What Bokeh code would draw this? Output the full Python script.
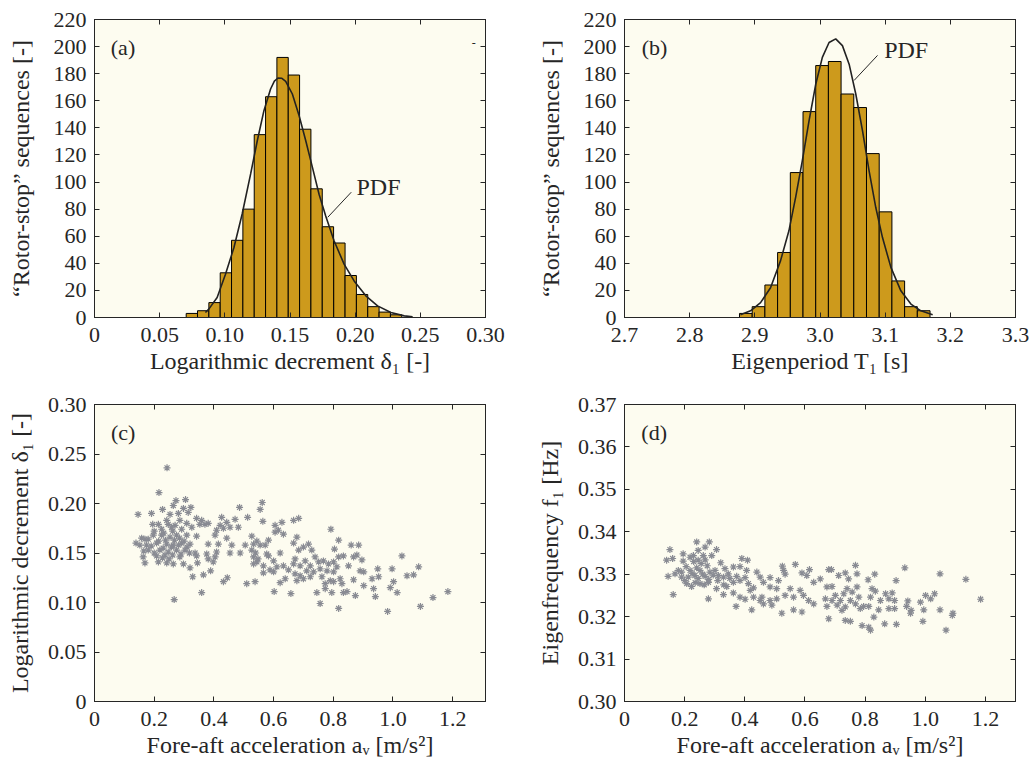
from bokeh.plotting import figure
from bokeh.layouts import column, row
from bokeh.models import Range1d, LinearAxis, FixedTicker, CustomJSTickFormatter
from bokeh.core.properties import value
from bokeh.embed import file_html
from bokeh.resources import INLINE

# ---------------- data ----------------
# (a) histogram of logarithmic decrement
delta_bin_centers = [0.0747, 0.0834, 0.0921, 0.1008, 0.1095, 0.1182, 0.1269, 0.1356,
                     0.1443, 0.1530, 0.1617, 0.1704, 0.1791, 0.1879, 0.1966, 0.2053,
                     0.2140, 0.2227, 0.2314]
delta_bin_width = 0.0087
delta_counts = [3, 5, 11, 33, 57, 80, 135, 163, 192, 179, 139, 95, 67, 55, 31, 17, 8, 4, 2]
delta_pdf_x = [0.0851, 0.0877, 0.0941, 0.1005, 0.1070, 0.1133, 0.1198, 0.1249, 0.1300,
               0.1351, 0.1380, 0.1408, 0.1438, 0.1467, 0.1518, 0.1570, 0.1621, 0.1672,
               0.1723, 0.1774, 0.1838, 0.1915, 0.1992, 0.2082, 0.2172, 0.2274, 0.2377, 0.2441]
delta_pdf_y = [3.7, 6.2, 14.8, 32.0, 51.7, 76.4, 106.0, 130.5, 152.7,
               168.7, 174.5, 176.8, 176.6, 174.4, 165.0, 149.0, 130.5, 110.8,
               91.0, 75.0, 56.7, 39.4, 27.0, 16.0, 8.6, 3.7, 1.2, 0.5]

# (b) histogram of eigenperiod
period_bin_centers = [2.8862, 2.9057, 2.9252, 2.9447, 2.9642, 2.9837, 3.0032, 3.0226,
                      3.0421, 3.0616, 3.0811, 3.1006, 3.1201, 3.1396, 3.1591]
period_bin_width = 0.0195
period_counts = [3, 8, 24, 48, 107, 152, 186, 189, 165, 155, 121, 78, 27, 8, 5]
period_pdf_x = [2.8780, 2.8934, 2.9088, 2.9241, 2.9395, 2.9523, 2.9626, 2.9729, 2.9831,
                2.9934, 3.0036, 3.0139, 3.0241, 3.0344, 3.0447, 3.0549, 3.0652, 3.0754,
                3.0857, 3.0959, 3.1088, 3.1241, 3.1395, 3.1549, 3.1729]
period_pdf_y = [2.0, 4.9, 11.0, 22.0, 42.0, 64.0, 88.7, 115.8, 145.0,
                172.0, 192.0, 203.0, 205.7, 200.7, 187.0, 165.0, 138.0, 108.0,
                81.0, 59.0, 37.0, 19.7, 9.9, 4.9, 2.0]

# (c) logarithmic decrement vs fore-aft acceleration
c_accel = [0.243, 0.216, 0.273, 0.305, 0.562, 0.486, 0.555, 0.228, 0.323, 0.298, 0.264,
           0.146, 0.191, 0.253, 0.281, 0.314, 0.513, 0.426, 0.342, 0.359, 0.242, 0.286,
           0.564, 0.628, 0.667, 0.684, 0.471, 0.443, 0.195, 0.214, 0.247, 0.270, 0.309,
           0.353, 0.370, 0.381, 0.421, 0.454, 0.482, 0.605, 0.225, 0.258, 0.292, 0.326,
           0.409, 0.432, 0.605, 0.633, 0.616, 0.139, 0.158, 0.169, 0.180, 0.197, 0.225,
           0.253, 0.275, 0.309, 0.342, 0.404, 0.443, 0.527, 0.678, 0.544, 0.583, 0.152,
           0.174, 0.208, 0.242, 0.264, 0.292, 0.320, 0.381, 0.415, 0.460, 0.505, 0.555,
           0.572, 0.667, 0.533, 0.180, 0.219, 0.247, 0.275, 0.303, 0.337, 0.376, 0.409,
           0.454, 0.488, 0.527, 0.577, 0.622, 0.684, 0.163, 0.208, 0.236, 0.286, 0.342,
           0.381, 0.404, 0.533, 0.544, 0.600, 0.672, 0.583, 0.169, 0.214, 0.242, 0.264,
           0.298, 0.345, 0.398, 0.533, 0.566, 0.611, 0.633, 0.667, 0.689, 0.320, 0.588,
           0.389, 0.365, 0.329, 0.566, 0.600, 0.650, 0.672, 0.689, 0.432, 0.445, 0.510,
           0.538, 0.622, 0.639, 0.678, 0.359, 0.602, 0.658, 0.267,
           0.200, 0.232, 0.262, 0.285, 0.300, 0.215, 0.238, 0.268, 0.190, 0.230, 0.258,
           0.282, 0.310, 0.165, 0.200, 0.262, 0.290, 0.318, 0.228, 0.250, 0.540, 0.548,
           0.792, 0.700, 0.717, 0.728, 0.818, 0.804, 0.860, 0.885, 0.834, 0.818, 0.879,
           0.896, 0.868, 1.030, 0.706, 0.723, 0.739, 0.751, 0.767, 0.784, 0.801, 0.812,
           0.711, 0.734, 0.756, 0.779, 0.801, 0.700, 0.723, 0.762, 0.790, 0.823, 0.829,
           0.801, 0.773, 0.851, 0.902, 0.890, 0.949, 0.997, 1.086, 1.047, 1.069, 0.952,
           0.930, 0.868, 0.902, 1.002, 0.991, 0.935, 1.014, 0.941, 0.874, 0.846, 0.834,
           0.795, 0.773, 0.745, 0.756, 0.818, 0.982, 1.092, 1.134, 1.184]
c_delta = [0.236, 0.211, 0.203, 0.204, 0.201, 0.196, 0.194, 0.194, 0.196, 0.195, 0.198,
           0.189, 0.190, 0.189, 0.190, 0.191, 0.186, 0.186, 0.185, 0.183, 0.183, 0.183,
           0.182, 0.181, 0.183, 0.185, 0.184, 0.181, 0.179, 0.179, 0.179, 0.178, 0.180,
           0.179, 0.179, 0.180, 0.178, 0.176, 0.176, 0.178, 0.174, 0.176, 0.174, 0.176,
           0.173, 0.175, 0.171, 0.169, 0.173, 0.160, 0.165, 0.164, 0.164, 0.168, 0.168,
           0.166, 0.168, 0.168, 0.167, 0.168, 0.165, 0.167, 0.166, 0.162, 0.163, 0.158,
           0.158, 0.160, 0.159, 0.158, 0.160, 0.159, 0.159, 0.159, 0.158, 0.158, 0.158,
           0.158, 0.160, 0.159, 0.153, 0.153, 0.151, 0.153, 0.153, 0.150, 0.149, 0.151,
           0.150, 0.150, 0.153, 0.149, 0.150, 0.153, 0.146, 0.147, 0.148, 0.146, 0.147,
           0.144, 0.146, 0.146, 0.141, 0.142, 0.144, 0.147, 0.140, 0.141, 0.140, 0.139,
           0.139, 0.140, 0.141, 0.139, 0.137, 0.136, 0.137, 0.139, 0.137, 0.135, 0.133,
           0.132, 0.128, 0.126, 0.130, 0.131, 0.133, 0.129, 0.127, 0.121, 0.125, 0.119,
           0.121, 0.120, 0.124, 0.122, 0.110, 0.111, 0.109, 0.103,
           0.172, 0.170, 0.172, 0.165, 0.162, 0.162, 0.163, 0.163, 0.157, 0.155, 0.156,
           0.158, 0.156, 0.152, 0.150, 0.148, 0.149, 0.150, 0.145, 0.144, 0.150, 0.144,
           0.174, 0.156, 0.159, 0.153, 0.163, 0.154, 0.158, 0.158, 0.147, 0.146, 0.148,
           0.143, 0.146, 0.147, 0.142, 0.137, 0.146, 0.141, 0.142, 0.139, 0.141, 0.136,
           0.132, 0.131, 0.134, 0.132, 0.131, 0.124, 0.126, 0.126, 0.122, 0.124, 0.119,
           0.121, 0.119, 0.137, 0.131, 0.132, 0.134, 0.134, 0.136, 0.127, 0.128, 0.126,
           0.124, 0.123, 0.117, 0.121, 0.115, 0.114, 0.110, 0.106, 0.107, 0.111, 0.110,
           0.110, 0.114, 0.110, 0.099, 0.094, 0.091, 0.096, 0.105, 0.111]

# (d) eigenfrequency vs fore-aft acceleration
d_accel = [0.151, 0.195, 0.240, 0.282, 0.268, 0.306, 0.245, 0.262, 0.229, 0.218, 0.290,
           0.140, 0.160, 0.195, 0.245, 0.268, 0.320, 0.390, 0.409, 0.568, 0.525, 0.615,
           0.679, 0.179, 0.168, 0.218, 0.251, 0.284, 0.301, 0.334, 0.362, 0.384, 0.345,
           0.406, 0.440, 0.145, 0.190, 0.212, 0.234, 0.268, 0.312, 0.329, 0.373, 0.401,
           0.451, 0.484, 0.512, 0.534, 0.529, 0.590, 0.606, 0.651, 0.629, 0.207, 0.223,
           0.251, 0.279, 0.306, 0.340, 0.362, 0.384, 0.412, 0.429, 0.462, 0.484, 0.506,
           0.551, 0.584, 0.673, 0.418, 0.362, 0.329, 0.162, 0.279, 0.384, 0.401, 0.429,
           0.457, 0.484, 0.506, 0.534, 0.562, 0.595, 0.612, 0.629, 0.668, 0.673, 0.371,
           0.423, 0.490, 0.523, 0.562, 0.590, 0.679, 0.451, 0.462,
           0.230, 0.255, 0.205, 0.240, 0.275, 0.190, 0.225, 0.260, 0.295, 0.245, 0.280,
           0.200, 0.235, 0.310, 0.350, 0.330, 0.265,
           0.688, 0.768, 0.734, 0.773, 0.712, 0.745, 0.832, 0.810, 0.903, 0.932, 1.049,
           1.135, 1.184, 0.690, 0.740, 0.773, 0.701, 0.729, 0.757, 0.690, 0.718, 0.751,
           0.779, 0.707, 0.734, 0.768, 0.795, 0.723, 0.823, 0.834, 0.868, 0.890, 0.818,
           0.851, 0.879, 0.898, 0.845, 0.879, 0.898, 0.812, 0.784, 0.942, 0.938, 0.953,
           0.951, 0.984, 1.001, 1.018, 1.031, 0.995, 1.049, 1.092, 1.090, 0.734, 0.751,
           0.829, 0.790, 0.812, 0.818, 0.865, 0.904, 0.992, 1.069]
d_freq = [0.3358, 0.3348, 0.3376, 0.3376, 0.3364, 0.3358, 0.3356, 0.3344, 0.3344, 0.3340,
          0.3344, 0.3333, 0.3337, 0.3331, 0.3333, 0.3334, 0.3327, 0.3337, 0.3333, 0.3323,
          0.3319, 0.3311, 0.3311, 0.3309, 0.3301, 0.3309, 0.3309, 0.3305, 0.3309, 0.3313,
          0.3317, 0.3318, 0.3301, 0.3309, 0.3305, 0.3295, 0.3293, 0.3293, 0.3297, 0.3295,
          0.3297, 0.3293, 0.3295, 0.3292, 0.3293, 0.3292, 0.3285, 0.3300, 0.3309, 0.3303,
          0.3297, 0.3289, 0.3281, 0.3278, 0.3271, 0.3278, 0.3281, 0.3266, 0.3271, 0.3281,
          0.3285, 0.3278, 0.3268, 0.3281, 0.3270, 0.3266, 0.3266, 0.3262, 0.3270, 0.3262,
          0.3256, 0.3252, 0.3252, 0.3242, 0.3246, 0.3241, 0.3246, 0.3246, 0.3238, 0.3242,
          0.3250, 0.3246, 0.3250, 0.3238, 0.3230, 0.3242, 0.3224, 0.3224, 0.3216, 0.3227,
          0.3208, 0.3216, 0.3211, 0.3195, 0.3238, 0.3230,
          0.3330, 0.3325, 0.3318, 0.3315, 0.3320, 0.3305, 0.3302, 0.3300, 0.3298, 0.3290,
          0.3288, 0.3285, 0.3280, 0.3285, 0.3290, 0.3275, 0.3275,
          0.3311, 0.3321, 0.3303, 0.3301, 0.3297, 0.3289, 0.3300, 0.3287, 0.3285, 0.3315,
          0.3301, 0.3288, 0.3241, 0.3271, 0.3266, 0.3270, 0.3250, 0.3254, 0.3258, 0.3238,
          0.3238, 0.3238, 0.3246, 0.3227, 0.3223, 0.3230, 0.3224, 0.3215, 0.3266, 0.3260,
          0.3254, 0.3256, 0.3246, 0.3238, 0.3242, 0.3238, 0.3216, 0.3219, 0.3219, 0.3224,
          0.3219, 0.3237, 0.3224, 0.3215, 0.3208, 0.3234, 0.3250, 0.3242, 0.3254, 0.3216,
          0.3216, 0.3208, 0.3203, 0.3191, 0.3189, 0.3199, 0.3179, 0.3175, 0.3168, 0.3183,
          0.3182, 0.3189, 0.3168]

# tick values
hist_y_ticks = [0, 20, 40, 60, 80, 100, 120, 140, 160, 180, 200, 220]
delta_x_ticks = [0, 0.05, 0.10, 0.15, 0.20, 0.25, 0.30]
period_x_ticks = [2.7, 2.8, 2.9, 3.0, 3.1, 3.2, 3.3]
accel_x_ticks = [0, 0.2, 0.4, 0.6, 0.8, 1.0, 1.2]
delta_y_ticks = [0, 0.05, 0.10, 0.15, 0.20, 0.25, 0.30]
freq_y_ticks = [0.30, 0.31, 0.32, 0.33, 0.34, 0.35, 0.36, 0.37]

# ---------------- styling ----------------
FONT = "Liberation Serif"
BG = "#fdfcf0"
AXC = "#262626"
BAR = "#cd9a1c"
STAR = "#898b93"
TICK_FS = "22px"
LAB_FS = "24px"

fmt_int = CustomJSTickFormatter(code="return tick.toFixed(0);")
fmt_2 = CustomJSTickFormatter(code="return tick == 0 ? '0' : tick.toFixed(2);")
fmt_1 = CustomJSTickFormatter(code="return tick == 0 ? '0' : tick.toFixed(1);")


def make_fig(w, h, left, right, top, bottom, xr, yr):
    p = figure(width=w, height=h, x_range=Range1d(*xr), y_range=Range1d(*yr),
               output_backend="svg", toolbar_location=None,
               min_border_left=left, min_border_right=right,
               min_border_top=top, min_border_bottom=bottom,
               background_fill_color=BG, border_fill_color="white",
               outline_line_color=AXC, outline_line_width=1)
    p.grid.visible = False
    return p


def style_axis(ax, ticks, fmt, label, standoff, label_standoff):
    ax.ticker = FixedTicker(ticks=ticks)
    ax.formatter = fmt
    ax.axis_line_color = AXC
    ax.major_tick_line_color = AXC
    ax.major_tick_in = 5
    ax.major_tick_out = 0
    ax.minor_tick_line_color = None
    ax.major_label_text_font = FONT
    ax.major_label_text_font_size = TICK_FS
    ax.major_label_text_color = AXC
    ax.major_label_standoff = standoff
    ax.axis_label = label
    ax.axis_label_text_font = FONT
    ax.axis_label_text_font_size = LAB_FS
    ax.axis_label_text_font_style = "normal"
    ax.axis_label_text_color = AXC
    ax.axis_label_standoff = label_standoff


def add_box_ticks(p, xticks, yticks):
    for loc, ticks in (("above", xticks), ("right", yticks)):
        ax = LinearAxis(ticker=FixedTicker(ticks=ticks),
                        formatter=CustomJSTickFormatter(code="return '';"))
        ax.axis_line_color = AXC
        ax.major_tick_line_color = AXC
        ax.major_tick_in = 5
        ax.major_tick_out = 0
        ax.minor_tick_line_color = None
        ax.major_label_text_font_size = "1px"
        ax.major_label_standoff = 0
        p.add_layout(ax, loc)


def panel_text(p, x, y, txt, size="22px"):
    p.text(x=[x], y=[y], text=[txt], text_font=value(FONT), text_font_size=value(size),
           text_color=AXC, text_baseline="middle", text_align="left")


# layout (page origin at top-left): frames at x 94..485 / 624..1015,
# y 19..317 (top row) and 404..701 (bottom row)
LW, RW = 520, 513
TH, BH = 383, 377

# ---------------- (a) ----------------
pa = make_fig(LW, TH, 94, 35, 19, 66, (0, 0.30), (0, 220))
pa.vbar(x=delta_bin_centers, top=delta_counts, width=delta_bin_width, bottom=0,
        fill_color=BAR, line_color="black", line_width=1)
pa.line(delta_pdf_x, delta_pdf_y, line_color="#222222", line_width=1.6)
style_axis(pa.xaxis[0], delta_x_ticks, fmt_2, "Logarithmic decrement δ₁ [-]", 10, 3)
style_axis(pa.yaxis[0], hist_y_ticks, fmt_int, "“Rotor-stop” sequences [-]", 8, 17)
add_box_ticks(pa, delta_x_ticks, hist_y_ticks)
panel_text(pa, 0.0125, 199, "(a)")
pa.segment(x0=[0.179], y0=[74], x1=[0.197], y1=[92.5], line_color=AXC, line_width=1)
panel_text(pa, 0.201, 96, "PDF", "24px")
panel_text(pa, 0.2895, 202.5, "-", "12px")

# ---------------- (b) ----------------
pb = make_fig(RW, TH, 104, 18, 19, 66, (2.7, 3.3), (0, 220))
pb.vbar(x=period_bin_centers, top=period_counts, width=period_bin_width, bottom=0,
        fill_color=BAR, line_color="black", line_width=1)
pb.line(period_pdf_x, period_pdf_y, line_color="#222222", line_width=1.6)
style_axis(pb.xaxis[0], period_x_ticks, fmt_1, "Eigenperiod T₁ [s]", 10, 3)
style_axis(pb.yaxis[0], hist_y_ticks, fmt_int, "“Rotor-stop” sequences [-]", 8, 17)
add_box_ticks(pb, period_x_ticks, hist_y_ticks)
panel_text(pb, 2.7265, 199, "(b)")
pb.segment(x0=[3.0523], y0=[175], x1=[3.0883], y1=[193.5], line_color=AXC, line_width=1)
panel_text(pb, 3.0985, 197.5, "PDF", "24px")

# ---------------- (c) ----------------
pc = make_fig(LW, BH, 94, 35, 21, 59, (0, 1.31), (0, 0.30))
pc.scatter(c_accel, c_delta, marker="asterisk", size=7, line_color=STAR, line_width=1.2)
style_axis(pc.xaxis[0], accel_x_ticks, fmt_1, "Fore-aft acceleration aᵥ [m/s²]", 10, 3)
style_axis(pc.yaxis[0], delta_y_ticks, fmt_2, "Logarithmic decrement δ₁ [-]", 8, 12)
add_box_ticks(pc, accel_x_ticks, delta_y_ticks)
panel_text(pc, 0.055, 0.2717, "(c)")

# ---------------- (d) ----------------
pd_ = make_fig(RW, BH, 104, 18, 21, 59, (0, 1.30), (0.30, 0.37))
pd_.scatter(d_accel, d_freq, marker="asterisk", size=7, line_color=STAR, line_width=1.2)
style_axis(pd_.xaxis[0], accel_x_ticks, fmt_1, "Fore-aft acceleration aᵥ [m/s²]", 10, 3)
style_axis(pd_.yaxis[0], freq_y_ticks, fmt_2, "Eigenfrequency f₁ [Hz]", 8, 12)
add_box_ticks(pd_, accel_x_ticks, freq_y_ticks)
panel_text(pd_, 0.056, 0.3634, "(d)")

layout = column(row(pa, pb), row(pc, pd_))
open("out.html", "w").write(file_html(layout, INLINE))
